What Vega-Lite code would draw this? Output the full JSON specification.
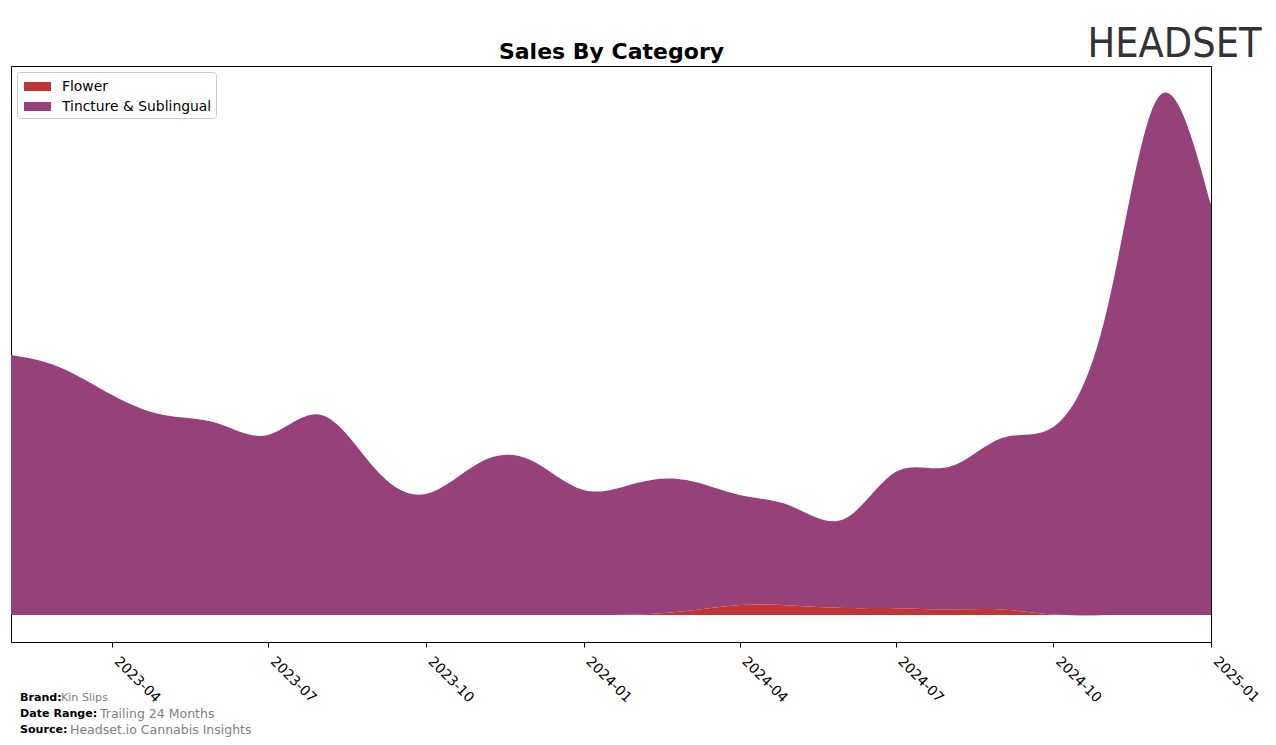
{
  "$schema": "https://vega.github.io/schema/vega-lite/v6.json",
  "background": "white",
  "padding": {"left": 10, "top": 22, "right": 5, "bottom": 5},
  "autosize": {"type": "pad"},
  "spacing": 56,
  "bounds": "flush",
  "config": {
    "view": {"stroke": "black", "strokeWidth": 1},
    "font": "DejaVu Sans",
    "legend": {
      "orient": "top-left",
      "offset": 6,
      "padding": 4,
      "strokeColor": "#cccccc",
      "fillColor": "white",
      "cornerRadius": 3,
      "labelFont": "DejaVu Sans",
      "labelFontSize": 13.9,
      "labelColor": "black",
      "labelOffset": 20,
      "symbolType": "M-0.714,-0.429H1.857V0.429H-0.714Z",
      "symbolSize": 441,
      "symbolStrokeWidth": 0
    }
  },
  "datasets": {
    "sales": [
      {"month": "2023-02-01", "category": "Tincture & Sublingual", "sales": 26000},
      {"month": "2023-03-01", "category": "Tincture & Sublingual", "sales": 24800},
      {"month": "2023-04-01", "category": "Tincture & Sublingual", "sales": 22000},
      {"month": "2023-05-01", "category": "Tincture & Sublingual", "sales": 20000},
      {"month": "2023-06-01", "category": "Tincture & Sublingual", "sales": 19200},
      {"month": "2023-07-01", "category": "Tincture & Sublingual", "sales": 18000},
      {"month": "2023-08-01", "category": "Tincture & Sublingual", "sales": 20000},
      {"month": "2023-09-01", "category": "Tincture & Sublingual", "sales": 14700},
      {"month": "2023-10-01", "category": "Tincture & Sublingual", "sales": 12100},
      {"month": "2023-11-01", "category": "Tincture & Sublingual", "sales": 15200},
      {"month": "2023-12-01", "category": "Tincture & Sublingual", "sales": 15500},
      {"month": "2024-01-01", "category": "Tincture & Sublingual", "sales": 12500},
      {"month": "2024-02-01", "category": "Tincture & Sublingual", "sales": 13150},
      {"month": "2024-03-01", "category": "Tincture & Sublingual", "sales": 13100},
      {"month": "2024-04-01", "category": "Tincture & Sublingual", "sales": 11000},
      {"month": "2024-05-01", "category": "Tincture & Sublingual", "sales": 9950},
      {"month": "2024-06-01", "category": "Tincture & Sublingual", "sales": 8900},
      {"month": "2024-07-01", "category": "Tincture & Sublingual", "sales": 13620},
      {"month": "2024-08-01", "category": "Tincture & Sublingual", "sales": 14250},
      {"month": "2024-09-01", "category": "Tincture & Sublingual", "sales": 17150},
      {"month": "2024-10-01", "category": "Tincture & Sublingual", "sales": 18750},
      {"month": "2024-11-01", "category": "Tincture & Sublingual", "sales": 30300},
      {"month": "2024-12-01", "category": "Tincture & Sublingual", "sales": 51700},
      {"month": "2025-01-01", "category": "Tincture & Sublingual", "sales": 41000},
      {"month": "2023-02-01", "category": "Flower", "sales": 0},
      {"month": "2023-03-01", "category": "Flower", "sales": 0},
      {"month": "2023-04-01", "category": "Flower", "sales": 0},
      {"month": "2023-05-01", "category": "Flower", "sales": 0},
      {"month": "2023-06-01", "category": "Flower", "sales": 0},
      {"month": "2023-07-01", "category": "Flower", "sales": 0},
      {"month": "2023-08-01", "category": "Flower", "sales": 0},
      {"month": "2023-09-01", "category": "Flower", "sales": 0},
      {"month": "2023-10-01", "category": "Flower", "sales": 0},
      {"month": "2023-11-01", "category": "Flower", "sales": 0},
      {"month": "2023-12-01", "category": "Flower", "sales": 0},
      {"month": "2024-01-01", "category": "Flower", "sales": 0},
      {"month": "2024-02-01", "category": "Flower", "sales": 50},
      {"month": "2024-03-01", "category": "Flower", "sales": 400},
      {"month": "2024-04-01", "category": "Flower", "sales": 1000},
      {"month": "2024-05-01", "category": "Flower", "sales": 950},
      {"month": "2024-06-01", "category": "Flower", "sales": 700},
      {"month": "2024-07-01", "category": "Flower", "sales": 680},
      {"month": "2024-08-01", "category": "Flower", "sales": 550},
      {"month": "2024-09-01", "category": "Flower", "sales": 550},
      {"month": "2024-10-01", "category": "Flower", "sales": 50},
      {"month": "2024-11-01", "category": "Flower", "sales": 0},
      {"month": "2024-12-01", "category": "Flower", "sales": 0},
      {"month": "2025-01-01", "category": "Flower", "sales": 0}
    ],
    "footer": [
      {"line": "a", "key": "Brand:", "val": "Kin Slips"},
      {"line": "b", "key": "Date Range:", "val": "Trailing 24 Months"},
      {"line": "c", "key": "Source:", "val": "Headset.io Cannabis Insights"}
    ]
  },
  "vconcat": [
    {
      "width": 1200,
      "height": 576,
      "data": {"name": "sales"},
      "mark": {"type": "area", "interpolate": "natural", "opacity": 1, "clip": true},
      "encoding": {
        "x": {
          "field": "month",
          "type": "temporal",
          "scale": {"type": "utc", "domain": [{"year": 2023, "month": 2, "date": 1, "utc": true}, {"year": 2025, "month": 1, "date": 1, "utc": true}], "nice": false},
          "axis": {
            "title": "HEADSET",
            "titleX": 1250,
            "titleY": -586,
            "titleAlign": "right",
            "titleBaseline": "alphabetic",
            "titleAngle": 0,
            "titleFont": "Liberation Sans Narrow, DejaVu Sans Condensed, Roboto Condensed, Roboto",
            "titleFontSize": 41,
            "titleFontWeight": "normal",
            "titleColor": "#333333",
            "grid": false,
            "domain": false,
            "labelExpr": "utcFormat(datum.value, '%Y-%m')",
            "values": [
              {"year": 2023, "month": 4, "date": 1, "utc": true},
              {"year": 2023, "month": 7, "date": 1, "utc": true},
              {"year": 2023, "month": 10, "date": 1, "utc": true},
              {"year": 2024, "month": 1, "date": 1, "utc": true},
              {"year": 2024, "month": 4, "date": 1, "utc": true},
              {"year": 2024, "month": 7, "date": 1, "utc": true},
              {"year": 2024, "month": 10, "date": 1, "utc": true},
              {"year": 2025, "month": 1, "date": 1, "utc": true}
            ],
            "tickColor": "black",
            "tickSize": 5,
            "tickWidth": 1,
            "labelAngle": 45,
            "labelAlign": "left",
            "labelBaseline": "top",
            "labelPadding": 7,
            "labelOffset": 9,
            "labelFont": "DejaVu Sans",
            "labelFontSize": 13.9,
            "labelColor": "black",
            "labelFlush": false,
            "labelBound": false,
            "labelOverlap": false
          }
        },
        "y": {
          "field": "sales",
          "type": "quantitative",
          "stack": "zero",
          "scale": {"domain": [-2700, 54900], "nice": false, "zero": false},
          "axis": {
            "title": "Sales By Category",
            "labels": false,
            "ticks": false,
            "domain": false,
            "grid": false,
            "minExtent": 0,
            "titleAngle": 0,
            "titleX": 600,
            "titleY": -8,
            "titleAlign": "center",
            "titleBaseline": "alphabetic",
            "titleFont": "DejaVu Sans",
            "titleFontSize": 22,
            "titleFontWeight": "bold",
            "titleColor": "black"
          }
        },
        "color": {
          "field": "category",
          "type": "nominal",
          "scale": {"domain": ["Flower", "Tincture & Sublingual"], "range": ["#c23535", "#96417a"]},
          "legend": {"title": null}
        },
        "order": {"field": "category", "sort": "ascending"}
      }
    },
    {
      "width": 300,
      "height": 32,
      "view": {"stroke": null},
      "data": {"name": "footer"},
      "encoding": {
        "y": {"field": "line", "type": "ordinal", "axis": null, "scale": {"type": "point", "padding": 0}},
        "x": {"datum": 0, "type": "quantitative", "scale": {"domain": [0, 1]}, "axis": null}
      },
      "layer": [
        {
          "mark": {"type": "text", "align": "left", "baseline": "middle", "font": "DejaVu Sans", "fontWeight": "bold", "fontSize": 11.1, "color": "black", "dx": 9},
          "encoding": {"text": {"field": "key"}}
        },
        {
          "transform": [{"filter": "datum.line == 'a'"}],
          "mark": {"type": "text", "align": "left", "baseline": "middle", "font": "DejaVu Sans", "fontSize": 11.1, "color": "#808080", "dx": 50},
          "encoding": {"text": {"field": "val"}}
        },
        {
          "transform": [{"filter": "datum.line == 'b'"}],
          "mark": {"type": "text", "align": "left", "baseline": "middle", "font": "DejaVu Sans", "fontSize": 12.5, "color": "#808080", "dx": 89},
          "encoding": {"text": {"field": "val"}}
        },
        {
          "transform": [{"filter": "datum.line == 'c'"}],
          "mark": {"type": "text", "align": "left", "baseline": "middle", "font": "DejaVu Sans", "fontSize": 12.5, "color": "#808080", "dx": 59},
          "encoding": {"text": {"field": "val"}}
        }
      ]
    }
  ]
}
